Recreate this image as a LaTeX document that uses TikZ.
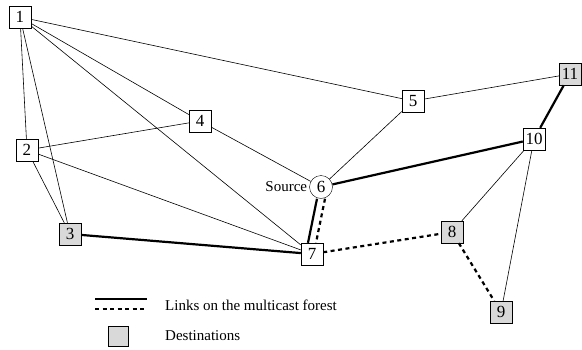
\documentclass[tikz,border=0pt]{standalone}
\usepackage{fontspec}
\setmainfont{Liberation Serif}
\usetikzlibrary{positioning}

\begin{document}
\begin{tikzpicture}[x=1pt,y=-1pt,
        site/.style={shape=rectangle,draw=black,fill=white,minimum size=22pt,inner sep=1pt,font=\fontsize{17}{17}\selectfont},
        dest/.style={site,fill=gray!30},
        link/.style={line width=0.6pt},
        forest/.style={line width=2.2pt},
        forestdash/.style={line width=2.2pt,dash pattern=on 4pt off 3.5pt},
        legtext/.style={anchor=west,inner sep=0pt,font=\fontsize{15}{15}\selectfont}]
        \useasboundingbox (0,0) rectangle (582,349);
        \node[site] (n1) at (20,17) {1};
        \node[site] (n2) at (27,150) {2};
        \node[dest] (n3) at (70,234) {3};
        \node[site] (n4) at (200,121) {4};
        \node[site] (n5) at (413,101) {5};
        \node[site,shape=circle,minimum size=23pt,inner sep=0pt] (n6) at (321,187) {6};
        \node[site] (n7) at (312,254) {7};
        \node[dest] (n8) at (452,232) {8};
        \node[dest] (n9) at (501,312) {9};
        \node[site] (n10) at (534,139) {10};
        \node[dest] (n11) at (570,74) {11};
        \node[left=1pt of n6,inner sep=1pt,font=\fontsize{15}{15}\selectfont] (src) {Source};
        \path [link] (n1) edge (n2);
        \path [link] (n1) edge (n3);
        \path [link] (n1) edge (n4);
        \path [link] (n1) edge (n5);
        \path [link] (n1) edge (n7);
        \path [link] (n2) edge (n3);
        \path [link] (n2) edge (n4);
        \path [link] (n2) edge (n7);
        \path [link] (n4) edge (n6);
        \path [link] (n5) edge (n6);
        \path [link] (n5) edge (n11);
        \path [link] (n10) edge (n8);
        \path [link] (n10) edge (n9);
        \path [forest] (n3) edge (n7);
        \path [forest] (n6) edge (n10);
        \path [forest] (n10) edge (n11);
        \path [forest] ([xshift=-4pt]n6.south) edge ([xshift=-4pt]n7.north);
        \path [forestdash] ([xshift=4pt]n6.south) edge ([xshift=4pt]n7.north);
        \path [forestdash] (n7) edge (n8);
        \path [forestdash] (n8) edge (n9);
        % legend
        \coordinate (ls1) at (95,299);
        \coordinate (ls2) at (147,299);
        \coordinate (ld1) at (95,309);
        \coordinate (ld2) at (147,309);
        \path [forest,line width=1.8pt] (ls1) edge (ls2);
        \path [forestdash,line width=1.8pt] (ld1) edge (ld2);
        \node[legtext] (lforest) at (165,305) {Links on the multicast forest};
        \node[dest,minimum size=20pt] (ldest) at (118,336) {};
        \node[legtext] (ldestt) at (165,336) {Destinations};
    \end{tikzpicture}
\end{document}
